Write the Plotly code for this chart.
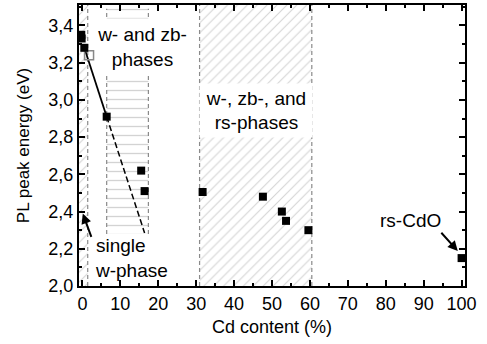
import plotly.graph_objects as go

# ---- data ----
cd_filled = [-0.3, -0.2, 0.5, 6.4, 15.5, 16.4, 31.7, 47.6, 52.6, 53.7, 59.6, 100.0]
e_filled = [3.35, 3.33, 3.28, 2.91, 2.62, 2.51, 2.505, 2.48, 2.40, 2.35, 2.30, 2.15]
cd_open = [1.75]
e_open = [3.24]
fit_solid_x = [0.5, 6.4]
fit_solid_y = [3.28, 2.91]
fit_dash_x = [6.4, 16.4]
fit_dash_y = [2.91, 2.285]

# phase regions (x0, x1, y0, y1)
reg1 = [-0.9, 1.4, 2.0, 3.51]
reg2 = [6.4, 17.4, 2.28, 3.49]
reg3 = [30.9, 60.5, 2.0, 3.51]

xticks = list(range(0, 101, 10))
yticks = [2.0, 2.2, 2.4, 2.6, 2.8, 3.0, 3.2, 3.4]

FONT = "Liberation Sans, Arial, sans-serif"
HATCH = "#a8a8a8"
DASHC = "#8a8a8a"

fig = go.Figure()

def box(r, shape, size):
    x0, x1, y0, y1 = r
    fig.add_trace(go.Scatter(
        x=[x0, x1, x1, x0, x0], y=[y0, y0, y1, y1, y0],
        mode="lines", fill="toself", line=dict(width=0),
        fillcolor="rgba(0,0,0,0)",
        fillpattern=dict(shape=shape, fgcolor=HATCH, bgcolor="rgba(255,255,255,0)",
                         size=size, solidity=0.15),
        hoverinfo="skip", showlegend=False))

def vline(x, y0, y1):
    fig.add_trace(go.Scatter(x=[x, x], y=[y0, y1], mode="lines",
                             line=dict(color=DASHC, width=1.2, dash="4px,3px"),
                             hoverinfo="skip", showlegend=False))

box(reg1, "/", 7)
box(reg2, "-", 9)
box(reg3, "/", 7)
vline(reg1[1], reg1[2], reg1[3])
vline(reg2[0], reg2[2], reg2[3])
vline(reg2[1], reg2[2], reg2[3])
vline(reg3[0], reg3[2], reg3[3])
vline(reg3[1], reg3[2], reg3[3])

fig.add_trace(go.Scatter(x=fit_solid_x, y=fit_solid_y, mode="lines",
                         line=dict(color="black", width=1.8), showlegend=False))
fig.add_trace(go.Scatter(x=fit_dash_x, y=fit_dash_y, mode="lines",
                         line=dict(color="black", width=1.5, dash="6px,3px"), showlegend=False))
fig.add_trace(go.Scatter(x=cd_open, y=e_open, mode="markers",
                         marker=dict(symbol="square-open", size=9, color="#888",
                                     line=dict(width=1.5, color="#888")),
                         showlegend=False, cliponaxis=False))
fig.add_trace(go.Scatter(x=cd_filled, y=e_filled, mode="markers",
                         marker=dict(symbol="square", size=8, color="black"),
                         showlegend=False, cliponaxis=False))

afont = dict(family=FONT, size=19, color="black")
annots = [
    dict(x=15.7, y=3.284, text="w- and zb-<br>phases",
         showarrow=False, bgcolor="white", width=92, height=56, borderpad=0, font=afont),
    dict(x=(reg3[0] + reg3[1]) / 2, y=2.945, text="w-, zb-, and<br>rs-phases",
         showarrow=False, bgcolor="white", width=112, height=53, borderpad=0, font=afont),
    dict(x=2.8, y=2.15, text="single<br>w-phase", xanchor="left",
         align="left", showarrow=False, font=afont),
    dict(x=86.6, y=2.352, text="rs-CdO", showarrow=False, font=afont),
    dict(x=0.1, y=2.389, ax=2.5, ay=2.256, axref="x", ayref="y", text="",
         showarrow=True, arrowhead=2, arrowsize=1, arrowwidth=2, arrowcolor="black"),
    dict(x=99.0, y=2.188, ax=94.3, ay=2.294, axref="x", ayref="y", text="",
         showarrow=True, arrowhead=2, arrowsize=1, arrowwidth=2, arrowcolor="black"),
]
for a in annots:
    a.setdefault("xref", "x")
    a.setdefault("yref", "y")
    fig.add_annotation(**a)

axis_common = dict(showgrid=False, zeroline=False, showline=True, linecolor="black",
                   linewidth=2, mirror="ticks", ticks="inside", ticklen=6,
                   tickwidth=1.5, tickcolor="black",
                   tickfont=dict(family=FONT, size=18, color="black"))

fig.update_xaxes(range=[-0.9, 100.9], tickvals=xticks,
                 ticktext=[str(v) for v in xticks],
                 minor=dict(ticks="inside", ticklen=3, dtick=5, tick0=0, tickcolor="black"),
                 title=dict(text="Cd content (%)", font=dict(family=FONT, size=18, color="black"),
                            standoff=8),
                 **axis_common)
fig.update_yaxes(range=[2.0, 3.51], tickvals=yticks,
                 ticktext=[f"{v:.1f}".replace(".", ",") for v in yticks],
                 minor=dict(ticks="inside", ticklen=3, dtick=0.1, tick0=2.0, tickcolor="black"),
                 title=dict(text="PL peak energy (eV)", font=dict(family=FONT, size=17, color="black"),
                            standoff=14),
                 **axis_common)

fig.update_layout(width=487, height=344, margin=dict(l=79, r=22, t=3, b=58),
                  plot_bgcolor="white", paper_bgcolor="white", showlegend=False)

fig.write_html("out.html")
